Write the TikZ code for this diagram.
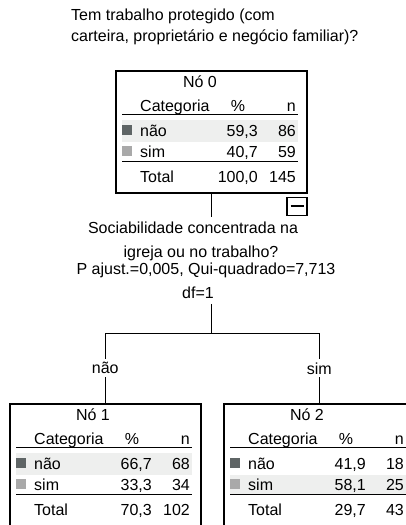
\documentclass[tikz,border=0pt]{standalone}
\usepackage{fontspec}
\setmainfont{Liberation Sans}
\usetikzlibrary{calc, positioning}
\definecolor{bandgray}{HTML}{EEEFEE}
\definecolor{darkcat}{HTML}{5F6566}
\definecolor{lightcat}{HTML}{A9A9A9}
\tikzset{
 treebox/.style = {
    rectangle, draw=black, line width=1.6pt,
    minimum width=191pt, minimum height=122pt,
    anchor=north west, inner sep=0pt},
 line/.style = {
    draw, line width=1.6pt},
 rule/.style = {
    draw, line width=1.8pt},
 lefttext/.style = {anchor=base west, inner sep=0pt},
 righttext/.style = {anchor=base east, inner sep=0pt},
 midtext/.style = {anchor=base, inner sep=5pt},
 catsquare/.style = {
    rectangle, minimum size=10pt, inner sep=0pt, anchor=north west},
 minusbox/.style = {
    rectangle, draw=black, line width=1.2pt,
    minimum width=20pt, minimum height=18pt, inner sep=0pt},
 branch label/.style = {
    fill=white, inner sep=3pt, pos=0.75},
}
\begin{document}
\begin{tikzpicture}[x=1pt, y=-1pt, font=\fontsize{16}{19}\selectfont]
    \useasboundingbox (0,0) rectangle (406,525);

    % Question
    \node [lefttext] (title1) at (71,20) {Tem trabalho protegido (com};
    \node [lefttext] (title2) at (71,41) {carteira, proprietário e negócio familiar)?};

    % Place nodes
    \node [treebox] (n0) at (115,70) {};
    \node [treebox] (n1) at (9,403) {};
    \node [treebox] (n2) at (223,403) {};

    % Node 0
    \begin{scope}[shift={(n0.north west)}]
        \fill [bandgray] (7,49.5) rectangle (183,71.5);
        \draw [rule] (7,44.5) -- (183,44.5);
        \draw [rule] (7,91.5) -- (183,91.5);
        \node [catsquare, fill=darkcat]  (sq0a) at (7,55) {};
        \node [catsquare, fill=lightcat] (sq0b) at (7,76) {};
        \node [midtext, inner sep=0pt] (t0) at (85,17) {Nó 0};
        \node [lefttext]  (h0c) at (25,41.5) {Categoria};
        \node [midtext, inner sep=0pt] (h0p) at (123,41.5) {\%};
        \node [righttext] (h0n) at (181,41.5) {n};
        \node [lefttext]  (r0a)  at (25,66.5)  {não};
        \node [righttext] (r0ap) at (143,66.5) {59,3};
        \node [righttext] (r0an) at (181,66.5) {86};
        \node [lefttext]  (r0b)  at (25,87.5)  {sim};
        \node [righttext] (r0bp) at (143,87.5) {40,7};
        \node [righttext] (r0bn) at (181,87.5) {59};
        \node [lefttext]  (r0t)  at (25,112)   {Total};
        \node [righttext] (r0tp) at (143,112)  {100,0};
        \node [righttext] (r0tn) at (181,112)  {145};
    \end{scope}
    \node [minusbox, anchor=north east] (m0) at ([yshift=-3pt]n0.south east) {\rule{13pt}{1.6pt}};

    % Node 1
    \begin{scope}[shift={(n1.north west)}]
        \fill [bandgray] (7,49.5) rectangle (183,71.5);
        \draw [rule] (7,44.5) -- (183,44.5);
        \draw [rule] (7,91.5) -- (183,91.5);
        \node [catsquare, fill=darkcat]  (sq1a) at (7,55) {};
        \node [catsquare, fill=lightcat] (sq1b) at (7,76) {};
        \node [midtext, inner sep=0pt] (t1) at (84,17) {Nó 1};
        \node [lefttext]  (h1c) at (25,41.5) {Categoria};
        \node [midtext, inner sep=0pt] (h1p) at (123,41.5) {\%};
        \node [righttext] (h1n) at (181,41.5) {n};
        \node [lefttext]  (r1a)  at (25,66.5)  {não};
        \node [righttext] (r1ap) at (143,66.5) {66,7};
        \node [righttext] (r1an) at (181,66.5) {68};
        \node [lefttext]  (r1b)  at (25,87.5)  {sim};
        \node [righttext] (r1bp) at (143,87.5) {33,3};
        \node [righttext] (r1bn) at (181,87.5) {34};
        \node [lefttext]  (r1t)  at (25,112)   {Total};
        \node [righttext] (r1tp) at (143,112)  {70,3};
        \node [righttext] (r1tn) at (181,112)  {102};
    \end{scope}

    % Node 2
    \begin{scope}[shift={(n2.north west)}]
        \fill [bandgray] (7,72) rectangle (183,91);
        \draw [rule] (7,44.5) -- (183,44.5);
        \draw [rule] (7,91.5) -- (183,91.5);
        \node [catsquare, fill=darkcat]  (sq2a) at (7,55) {};
        \node [catsquare, fill=lightcat] (sq2b) at (7,76) {};
        \node [midtext, inner sep=0pt] (t2) at (84,17) {Nó 2};
        \node [lefttext]  (h2c) at (25,41.5) {Categoria};
        \node [midtext, inner sep=0pt] (h2p) at (123,41.5) {\%};
        \node [righttext] (h2n) at (181,41.5) {n};
        \node [lefttext]  (r2a)  at (25,66.5)  {não};
        \node [righttext] (r2ap) at (143,66.5) {41,9};
        \node [righttext] (r2an) at (181,66.5) {18};
        \node [lefttext]  (r2b)  at (25,87.5)  {sim};
        \node [righttext] (r2bp) at (143,87.5) {58,1};
        \node [righttext] (r2bn) at (181,87.5) {25};
        \node [lefttext]  (r2t)  at (25,112)   {Total};
        \node [righttext] (r2tp) at (143,112)  {29,7};
        \node [righttext] (r2tn) at (181,112)  {43};
    \end{scope}

    % Split variable
    \node [midtext] (q1) at (193,233.5) {Sociabilidade concentrada na};
    \node [midtext] (q2) at (201,257.5) {igreja ou no trabalho?};
    \node [midtext] (q3) at (206,274.5) {P ajust.=0,005, Qui-quadrado=7,713};
    \node [midtext] (q4) at (198,298.5) {df=1};

    % Connectors
    \coordinate (split) at ([yshift=-140pt]n0.south);
    \path [line] (n0.south) -- (n0.south |- q1.north);
    \path [line] (n0.south |- q4.south) -- (split);
    \path [line] (split) -| node [branch label] {não} (n1.north);
    \path [line] (split) -| node [branch label] {sim} (n2.north);
\end{tikzpicture}
\end{document}
